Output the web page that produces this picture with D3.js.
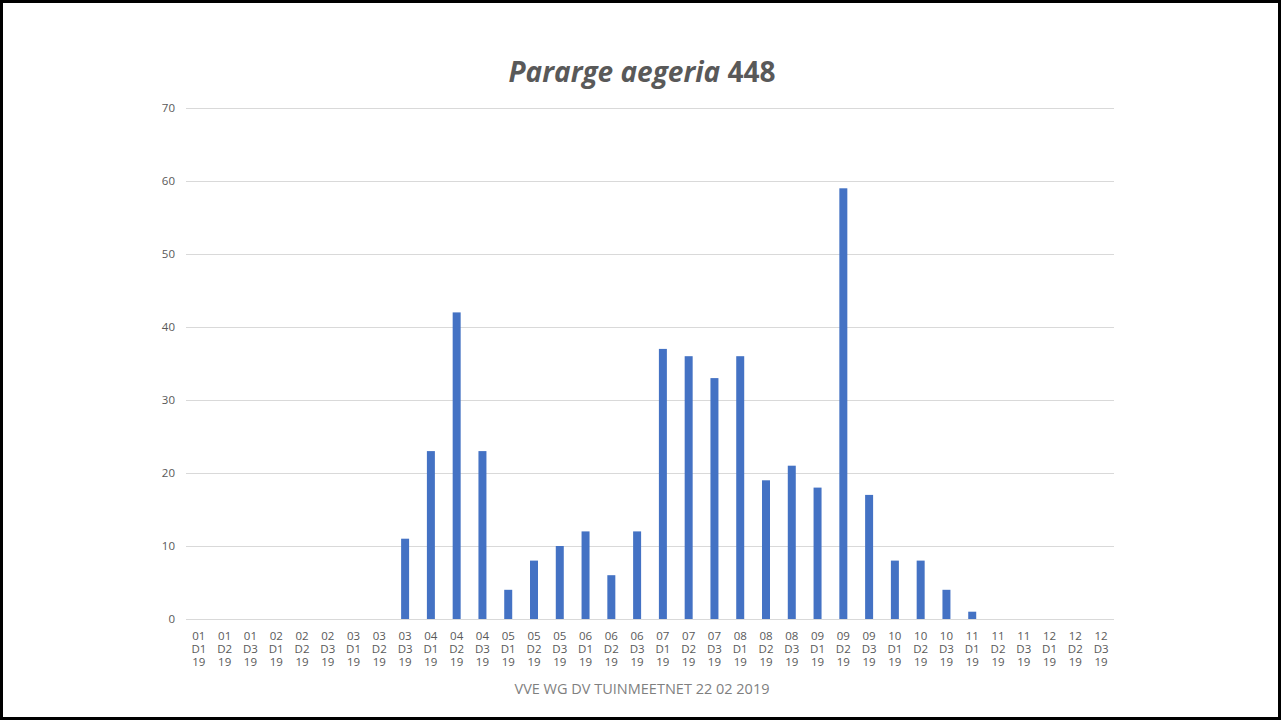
<!DOCTYPE html>
<html>
<head>
<meta charset="utf-8">
<script src="https://cdn.jsdelivr.net/npm/d3@7"></script>
<style>
  body { margin: 0; background: #fff; }
  svg { display: block; font-family: "Open Sans", "Liberation Sans", sans-serif; }
</style>
</head>
<body>
<div id="chart"></div>
<script>
// data
const months = ["01","02","03","04","05","06","07","08","09","10","11","12"];
const decades = ["D1","D2","D3"];
const year = "19";
const counts = [
  0, 0, 0,   0, 0, 0,   0, 0, 11,  23, 42, 23,
  4, 8, 10,  12, 6, 12, 37, 36, 33, 36, 19, 21,
  18, 59, 17, 8, 8, 4,  1, 0, 0,   0, 0, 0
];
const yTicks = [0, 10, 20, 30, 40, 50, 60, 70];

const categories = [];
months.forEach((m) => decades.forEach((d) => categories.push([m, d, year])));
const data = categories.map((c, i) => ({ key: c.join(" "), parts: c, value: counts[i] }));

const W = 1283, H = 722;
const margin = { top: 108, right: 169, bottom: 103, left: 186 };
const width = W - margin.left - margin.right,
  height = H - margin.top - margin.bottom;

const svg = d3.select("#chart").append("svg")
  .attr("width", W)
  .attr("height", H);

// outer frame
svg.append("rect")
  .attr("x", 1.5).attr("y", 1.5)
  .attr("width", W - 5).attr("height", H - 5)
  .attr("fill", "none")
  .attr("stroke", "#000")
  .attr("stroke-width", 3);

const g = svg.append("g").attr("transform", `translate(${margin.left}, ${margin.top})`);

const x = d3.scaleBand().domain(data.map((d) => d.key)).range([0, width]).paddingInner(0.69).paddingOuter(0.345);
const y = d3.scaleLinear().domain([0, 70]).range([height, 0]);

// gridlines
g.append("g")
  .selectAll("line")
  .data(yTicks)
  .join("line")
  .attr("x1", 0).attr("x2", width)
  .attr("y1", (d) => Math.round(y(d)) + 0.5)
  .attr("y2", (d) => Math.round(y(d)) + 0.5)
  .attr("stroke", "#d9d9d9")
  .attr("stroke-width", 1);

// y axis labels
const yAxis = g.append("g")
  .call(d3.axisLeft(y).tickValues(yTicks).tickSize(0).tickPadding(11));
yAxis.select(".domain").remove();
yAxis.selectAll("text")
  .attr("fill", "#595959")
  .style("font-size", "11.5px")
  .style("font-family", "'Open Sans', sans-serif");

// bars
g.append("g")
  .selectAll("rect")
  .data(data.filter((d) => d.value > 0))
  .join("rect")
  .attr("x", (d) => x(d.key))
  .attr("y", (d) => y(d.value))
  .attr("width", x.bandwidth())
  .attr("height", (d) => y(0) - y(d.value))
  .attr("fill", "#4472c4");

// x labels, three lines each
const xl = g.append("g").attr("transform", `translate(0, ${height})`);
xl.selectAll("text")
  .data(data)
  .join("text")
  .attr("x", (d) => x(d.key) + x.bandwidth() / 2)
  .attr("y", 21)
  .attr("text-anchor", "middle")
  .attr("fill", "#595959")
  .style("font-size", "11.5px")
  .selectAll("tspan")
  .data((d) => d.parts)
  .join("tspan")
  .attr("x", function () { return d3.select(this.parentNode).attr("x"); })
  .attr("dy", (d, i) => (i === 0 ? 0 : 13))
  .text((d) => d);

// title
const title = svg.append("text")
  .attr("x", 642).attr("y", 82)
  .attr("text-anchor", "middle")
  .attr("fill", "#595959")
  .style("font-size", "28px")
  .style("font-weight", "bold");
title.append("tspan").style("font-style", "italic").text("Pararge aegeria");
title.append("tspan").text(" 448");

// footer
svg.append("text")
  .attr("x", 642).attr("y", 694)
  .attr("text-anchor", "middle")
  .attr("fill", "#7f7f7f")
  .style("font-size", "14.5px")
  .text("VVE WG DV TUINMEETNET 22 02 2019");
</script>
</body>
</html>
